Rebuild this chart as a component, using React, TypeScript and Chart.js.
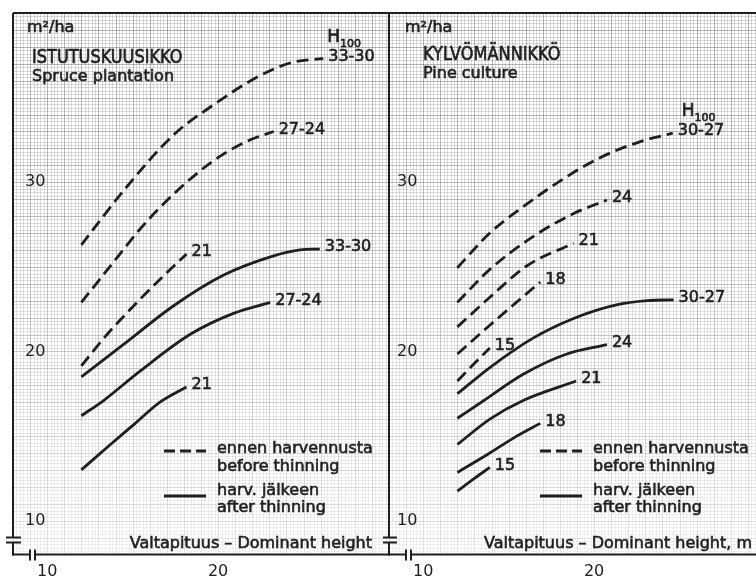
import { useEffect, useRef } from 'react';
import { Chart, registerables } from 'chart.js';

Chart.register(...registerables);

const FONT = '"DejaVu Sans", "Liberation Sans", sans-serif';
const INK = '#1f1f1f';

// Shared axes: basal area (m²/ha) against dominant height (m)
const yMin = 8;
const yMax = 40;
const yTickValues = [10, 20, 30];
const xMin = 8;
const xTickValues = [10, 20];

// ISTUTUSKUUSIKKO — Spruce plantation, before thinning (dashed)
const spruceBefore3330X = [12, 14.55, 17.4, 19.7, 22.45, 24.4, 26.15];
const spruceBefore3330Y = [26.3, 29.6, 32.8, 34.55, 36.3, 37.1, 37.3];
const spruceBefore2724X = [12, 13.9, 15.45, 17.4, 19.7, 21.65, 23.25];
const spruceBefore2724Y = [22.9, 25.3, 27.25, 29.3, 31.25, 32.4, 33.0];
const spruceBefore21X = [12, 13.5, 15.45, 17.0, 18.15];
const spruceBefore21Y = [19.15, 21.0, 23.1, 24.65, 25.75];

// Spruce plantation, after thinning (solid)
const spruceAfter3330X = [12, 14.45, 17.4, 20.3, 23.25, 24.8, 25.95];
const spruceAfter3330Y = [18.5, 20.4, 22.7, 24.5, 25.65, 26.0, 26.05];
const spruceAfter2724X = [12, 13.3, 15.45, 18.35, 20.9, 23.05];
const spruceAfter2724Y = [16.2, 17.1, 18.85, 21.0, 22.25, 22.9];
const spruceAfter21X = [12, 13.7, 15.15, 16.6, 18.15];
const spruceAfter21Y = [13.0, 14.5, 15.75, 17.0, 17.9];

// KYLVÖMÄNNIKKÖ — Pine culture, before thinning (dashed)
const pineBefore3027X = [12, 13.9, 15.85, 18.2, 20.35, 22.7, 24.6];
const pineBefore3027Y = [24.95, 27.0, 28.55, 30.2, 31.45, 32.4, 32.9];
const pineBefore24X = [12, 13.9, 16.45, 18.8, 20.75];
const pineBefore24Y = [22.9, 24.85, 26.8, 28.15, 28.95];
const pineBefore21X = [12, 13.9, 16.05, 18.8];
const pineBefore21Y = [21.45, 23.2, 25.05, 26.4];
const pineBefore18X = [12, 13.9, 15.45, 16.85];
const pineBefore18Y = [19.85, 21.55, 22.9, 24.1];
const pineBefore15X = [12, 13.15, 13.9];
const pineBefore15Y = [18.25, 19.45, 20.2];

// Pine culture, after thinning (solid)
const pineAfter3027X = [12, 13.9, 16.45, 18.8, 21.3, 23.1, 24.65];
const pineAfter3027Y = [17.5, 19.05, 20.8, 21.95, 22.75, 23.0, 23.05];
const pineAfter24X = [12, 13.55, 15.85, 18.4, 20.75];
const pineAfter24Y = [16.05, 17.1, 18.65, 19.85, 20.4];
const pineAfter21X = [12, 13.9, 15.85, 18.95];
const pineAfter21Y = [14.5, 16.0, 17.1, 18.25];
const pineAfter18X = [12, 13.9, 15.4, 16.85];
const pineAfter18Y = [12.85, 14.0, 14.95, 15.75];
const pineAfter15X = [12, 13.0, 13.9];
const pineAfter15Y = [11.75, 12.5, 13.15];

type Series = { label: string; xs: number[]; ys: number[]; dashed: boolean };

const spruceSeries: Series[] = [
  { label: '33-30', xs: spruceBefore3330X, ys: spruceBefore3330Y, dashed: true },
  { label: '27-24', xs: spruceBefore2724X, ys: spruceBefore2724Y, dashed: true },
  { label: '21', xs: spruceBefore21X, ys: spruceBefore21Y, dashed: true },
  { label: '33-30', xs: spruceAfter3330X, ys: spruceAfter3330Y, dashed: false },
  { label: '27-24', xs: spruceAfter2724X, ys: spruceAfter2724Y, dashed: false },
  { label: '21', xs: spruceAfter21X, ys: spruceAfter21Y, dashed: false },
];

const pineSeries: Series[] = [
  { label: '30-27', xs: pineBefore3027X, ys: pineBefore3027Y, dashed: true },
  { label: '24', xs: pineBefore24X, ys: pineBefore24Y, dashed: true },
  { label: '21', xs: pineBefore21X, ys: pineBefore21Y, dashed: true },
  { label: '18', xs: pineBefore18X, ys: pineBefore18Y, dashed: true },
  { label: '15', xs: pineBefore15X, ys: pineBefore15Y, dashed: true },
  { label: '30-27', xs: pineAfter3027X, ys: pineAfter3027Y, dashed: false },
  { label: '24', xs: pineAfter24X, ys: pineAfter24Y, dashed: false },
  { label: '21', xs: pineAfter21X, ys: pineAfter21Y, dashed: false },
  { label: '18', xs: pineAfter18X, ys: pineAfter18Y, dashed: false },
  { label: '15', xs: pineAfter15X, ys: pineAfter15Y, dashed: false },
];

const toDataset = (s: Series) => ({
  label: s.label,
  data: s.xs.map((x, i) => ({ x, y: s.ys[i] })),
  borderColor: INK,
  borderWidth: 2.8,
  borderDash: s.dashed ? [12, 6] : [],
  borderCapStyle: 'butt' as const,
  cubicInterpolationMode: 'monotone' as const,
  pointRadius: 0,
  fill: false,
});

// Millimetre-paper background inside the plot area, painted before the axes
const paperPlugin = {
  id: 'paper',
  beforeDraw(chart: any) {
    const { ctx, chartArea: a } = chart;
    const sx = chart.scales.x;
    const sy = chart.scales.y;
    ctx.save();
    ctx.beginPath();
    ctx.rect(a.left, a.top, a.right - a.left, a.bottom - a.top);
    ctx.clip();
    const minor = new Path2D();
    const major = new Path2D();
    for (let k = Math.ceil(sx.min * 5); k <= Math.floor(sx.max * 5); k++) {
      const px = Math.round(sx.getPixelForValue(k / 5)) + 0.5;
      const p = k % 5 === 0 ? major : minor;
      p.moveTo(px, a.top);
      p.lineTo(px, a.bottom);
    }
    for (let k = Math.ceil(sy.min * 5); k <= Math.floor(sy.max * 5); k++) {
      const py = Math.round(sy.getPixelForValue(k / 5)) + 0.5;
      const p = k % 5 === 0 ? major : minor;
      p.moveTo(a.left, py);
      p.lineTo(a.right, py);
    }
    ctx.lineWidth = 1;
    ctx.strokeStyle = 'rgba(70,70,70,0.2)';
    ctx.stroke(minor);
    ctx.strokeStyle = 'rgba(50,50,50,0.36)';
    ctx.stroke(major);
    const g = ctx.createLinearGradient(0, a.top, 0, a.bottom);
    g.addColorStop(0, 'rgba(255,255,255,0)');
    g.addColorStop(0.5, 'rgba(255,255,255,0.2)');
    g.addColorStop(1, 'rgba(255,255,255,0.65)');
    ctx.fillStyle = g;
    ctx.fillRect(a.left, a.top, a.right - a.left, a.bottom - a.top);
    ctx.restore();
  },
};

// Frame, axis breaks, curve labels, titles and legend
const notesPlugin = {
  id: 'notes',
  afterDraw(chart: any, _args: any, opts: any) {
    const { ctx, chartArea: a } = chart;
    const line = (x1: number, y1: number, x2: number, y2: number) => {
      ctx.beginPath();
      ctx.moveTo(x1, y1);
      ctx.lineTo(x2, y2);
      ctx.stroke();
    };
    // slightly heavier lettering, as with pen-drawn text
    const text = (s: string, x: number, y: number) => {
      ctx.save();
      ctx.lineWidth = 0.6;
      ctx.setLineDash([]);
      ctx.strokeText(s, x, y);
      ctx.restore();
      ctx.fillText(s, x, y);
    };
    ctx.save();
    ctx.fillStyle = INK;
    ctx.strokeStyle = INK;
    ctx.lineCap = 'butt';

    // frame with broken axes
    ctx.lineWidth = 2;
    const by1 = a.bottom - 17;
    const by2 = a.bottom - 12;
    const bx1 = a.left + 17;
    const bx2 = a.left + 22;
    line(a.left, a.top, a.right, a.top);
    line(a.left, a.top, a.left, by1);
    line(a.left, by2, a.left, a.bottom + 1);
    line(a.left - 7, by1, a.left + 8, by1);
    line(a.left - 7, by2, a.left + 8, by2);
    line(a.left - 1, a.bottom, bx1, a.bottom);
    line(bx2, a.bottom, a.right, a.bottom);
    line(bx1, a.bottom - 5, bx1, a.bottom + 6);
    line(bx2, a.bottom - 5, bx2, a.bottom + 6);

    // labels at the end of each curve
    ctx.font = `16px ${FONT}`;
    ctx.textAlign = 'left';
    ctx.textBaseline = 'middle';
    chart.data.datasets.forEach((ds: any, i: number) => {
      const pts = chart.getDatasetMeta(i).data;
      const end = pts[pts.length - 1];
      text(ds.label, end.x + 5, end.y - 2);
    });

    // H100 above the uppermost curve label
    const topPts = chart.getDatasetMeta(0).data;
    const topEnd = topPts[topPts.length - 1];
    ctx.textBaseline = 'alphabetic';
    ctx.font = `17px ${FONT}`;
    const hx = topEnd.x + opts.hDx;
    text('H', hx, topEnd.y - 17);
    const hw = ctx.measureText('H').width;
    ctx.font = `11px ${FONT}`;
    text('100', hx + hw, topEnd.y - 12);

    // unit and panel titles
    ctx.font = `16px ${FONT}`;
    text('m²/ha', a.left + opts.unitDx, a.top + 19);
    ctx.save();
    ctx.translate(a.left + opts.titleDx, a.top + opts.titleDy);
    ctx.scale(0.95, 1.18);
    ctx.font = `17px ${FONT}`;
    text(opts.title, 0, 0);
    ctx.restore();
    ctx.font = `16px ${FONT}`;
    text(opts.subtitle, a.left + opts.titleDx, a.top + opts.titleDy + 18);

    // legend
    const lx0 = a.left + 151;
    const lx1 = a.left + 193;
    const tx = a.left + 204;
    ctx.lineWidth = 2.8;
    ctx.setLineDash([11, 5]);
    line(lx0, a.top + 438, lx1, a.top + 438);
    ctx.setLineDash([]);
    line(lx0, a.top + 483, lx1, a.top + 483);
    ctx.font = `16px ${FONT}`;
    text('ennen harvennusta', tx, a.top + 440);
    text('before thinning', tx, a.top + 458);
    text('harv. jälkeen', tx, a.top + 482);
    text('after thinning', tx, a.top + 499);

    // x-axis title
    ctx.textAlign = 'right';
    text(opts.axisTitle, a.right - opts.axisTitleInset, a.bottom - 7);
    ctx.restore();
  },
};

type PanelProps = {
  left: number;
  width: number;
  padLeft: number;
  padRight: number;
  xMax: number;
  yLabelPad: number;
  series: Series[];
  notes: Record<string, unknown>;
};

function Panel({ left, width, padLeft, padRight, xMax, yLabelPad, series, notes }: PanelProps) {
  const ref = useRef<HTMLCanvasElement>(null);
  useEffect(() => {
    const chart = new Chart(ref.current as HTMLCanvasElement, {
      type: 'line',
      data: { datasets: series.map(toDataset) as any },
      plugins: [paperPlugin, notesPlugin],
      options: {
        animation: false,
        responsive: false,
        devicePixelRatio: 1,
        parsing: false as any,
        layout: { padding: { left: padLeft, right: padRight, top: 13, bottom: 1.5 } },
        plugins: {
          legend: { display: false },
          tooltip: { enabled: false },
          notes: notes as any,
        } as any,
        scales: {
          x: {
            type: 'linear',
            min: xMin,
            max: xMax,
            afterBuildTicks: (s: any) => {
              s.ticks = xTickValues.map((v) => ({ value: v }));
            },
            afterFit: (s: any) => {
              s.paddingLeft = 0;
              s.paddingRight = 0;
            },
            grid: { display: false, drawTicks: false },
            border: { display: false },
            ticks: {
              padding: 9,
              color: INK,
              maxRotation: 0,
              autoSkip: false,
              font: { family: FONT, size: 16, lineHeight: 1 },
            },
          },
          y: {
            type: 'linear',
            min: yMin,
            max: yMax,
            afterBuildTicks: (s: any) => {
              s.ticks = yTickValues.map((v) => ({ value: v }));
            },
            afterFit: (s: any) => {
              s.width = 0;
              s.paddingTop = 0;
              s.paddingBottom = 0;
            },
            grid: { display: false, drawTicks: false },
            border: { display: false },
            ticks: {
              mirror: true,
              padding: yLabelPad,
              color: INK,
              font: { family: FONT, size: 16, lineHeight: 1 },
            },
          },
        },
      },
    });
    return () => chart.destroy();
  }, []);
  return (
    <canvas
      ref={ref}
      width={width}
      height={590}
      style={{ position: 'absolute', left, top: 0, width, height: 590 }}
    />
  );
}

export default function App() {
  return (
    <div
      style={{
        position: 'absolute',
        left: 0,
        top: 0,
        width: 756,
        height: 586,
        overflow: 'hidden',
        background: '#fff',
      }}
    >
      <Panel
        left={0}
        width={400}
        padLeft={13}
        padRight={11}
        xMax={30}
        yLabelPad={12}
        series={spruceSeries}
        notes={{
          title: 'ISTUTUSKUUSIKKO',
          subtitle: 'Spruce plantation',
          titleDx: 19,
          titleDy: 50,
          unitDx: 14,
          hDx: 4,
          axisTitle: 'Valtapituus – Dominant height',
          axisTitleInset: 17,
        }}
      />
      <Panel
        left={383}
        width={373}
        padLeft={6}
        padRight={0}
        xMax={29.47}
        yLabelPad={8}
        series={pineSeries}
        notes={{
          title: 'KYLVÖMÄNNIKKÖ',
          subtitle: 'Pine culture',
          titleDx: 34,
          titleDy: 47,
          unitDx: 16,
          hDx: 9,
          axisTitle: 'Valtapituus – Dominant height, m',
          axisTitleInset: 4,
        }}
      />
    </div>
  );
}
